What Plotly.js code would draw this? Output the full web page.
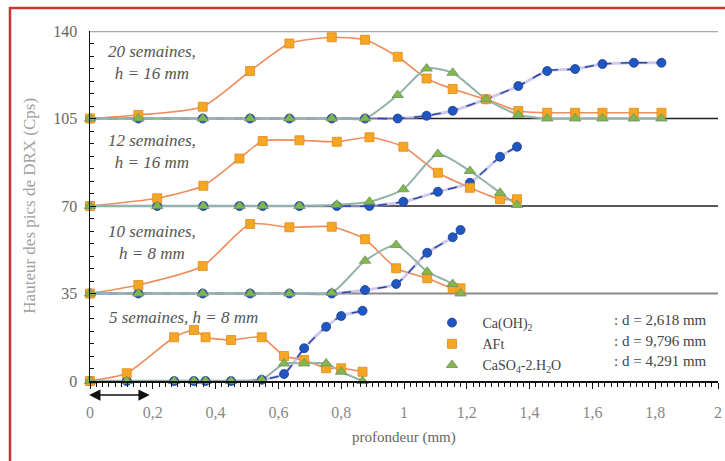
<!DOCTYPE html>
<html>
<head>
<meta charset="utf-8">
<script src="https://cdn.plot.ly/plotly-3.0.1.min.js"></script>
<style>
  html, body { margin: 0; padding: 0; background: #fff; }
  #chart { width: 725px; height: 461px; }
</style>
</head>
<body>
<div id="chart"></div>
<script>
// Profondeur (mm) des points de mesure, pour chaque échéance
const x5 = [0, 0.117, 0.268, 0.331, 0.368, 0.449, 0.547, 0.618, 0.682, 0.752, 0.80, 0.868];
const x10 = [0, 0.154, 0.359, 0.51, 0.635, 0.77, 0.876, 0.975, 1.074, 1.155, 1.18];
const x12 = [0, 0.214, 0.361, 0.476, 0.55, 0.667, 0.786, 0.89, 0.998, 1.108, 1.21, 1.306, 1.36];
const x20 = [0, 0.154, 0.359, 0.51, 0.635, 0.77, 0.876, 0.98, 1.072, 1.155, 1.261, 1.364, 1.456, 1.545, 1.632, 1.732, 1.82];

// Hauteur des pics (Cps) au-dessus de la ligne de base de chaque courbe
const portlandite5 = [0, 0, 0, 0, 0, 0, 0.5, 2.8, 13.1, 21.7, 26, 28.1];
const aft5 = [0, 3.1, 17.5, 20.4, 17.5, 16.4, 17.5, 10, 8.4, 5.1, 5.1, 3.7];
const gypse5 = [0, 0, 0, 0, 0, 0, 0.5, 7, 7, 7, 3.7, 0];

const portlandite10 = [0, 0, 0, 0, 0, 0, 1.4, 3.8, 16.3, 22.5, 25.4];
const aft10 = [0, 3.4, 11, 27.8, 26.5, 26.7, 21.7, 10.1, 6.1, 2.1, 2.1];
const gypse10 = [0, 0, 0, 0, 0, 0.3, 13.1, 19.4, 8.7, 3.8, 0];

const portlandite12 = [0, 0, 0, 0, 0, 0, 0, 0, 1.7, 5.7, 9.3, 19.7, 23.7];
const aft12 = [0, 3.1, 8.1, 19, 26, 26.3, 25.7, 27.5, 23.7, 13.3, 7.3, 2.7, 2.7];
const gypse12 = [0, 0, 0, 0, 0, 0, 0.5, 1.7, 6.7, 20.8, 14, 5.3, 0.4];

const portlandite20 = [0, 0, 0, 0, 0, 0, 0, 0, 1.1, 3.1, 7.7, 13, 19, 19.8, 21.8, 22.3, 22.3];
const aft20 = [0, 1.4, 4.7, 19, 30, 32.5, 31.5, 24.7, 16, 11.8, 7.7, 3, 2.3, 2.3, 2.3, 2.3, 2.3];
const gypse20 = [0, 0, 0, 0, 0, 0, 0, 9.4, 20, 18.3, 7.7, 1.5, 0, 0, 0, 0, 0];

// Décalage vertical de chaque courbe (ligne de base)
const baselines = [0, 35, 70, 105];
const panelLabels = ["5 semaines, h = 8 mm", "10 semaines,<br>h = 8 mm", "12 semaines,<br>h = 16 mm", "20 semaines,<br>h = 16 mm"];

const phaseNames = ["Ca(OH)<sub>2</sub>", "AFt", "CaSO<sub>4</sub>-2.H<sub>2</sub>O"];
const phaseDistances = [": d = 2,618 mm", ": d = 9,796 mm", ": d = 4,291 mm"];

const panels = [
  { x: x5, series: [portlandite5, aft5, gypse5] },
  { x: x10, series: [portlandite10, aft10, gypse10] },
  { x: x12, series: [portlandite12, aft12, gypse12] },
  { x: x20, series: [portlandite20, aft20, gypse20] }
];

const serif = "Liberation Serif, Times New Roman, serif";

const phaseStyle = [
  { line: { color: "#2546a8", width: 1.5, dash: "dash", shape: "spline", smoothing: 0.6 },
    halo: "rgba(175,165,220,0.6)",
    marker: { symbol: "circle", size: 9, color: "#1f56c2", line: { color: "#1a3f8f", width: 0.8 } } },
  { line: { color: "#f08c5a", width: 1.6, shape: "spline", smoothing: 0.6 },
    halo: null,
    marker: { symbol: "square", size: 9, color: "#f5a623", line: { color: "#e08a20", width: 0.8 } } },
  { line: { color: "#93b3a6", width: 2, shape: "spline", smoothing: 0.6 },
    halo: null,
    marker: { symbol: "triangle-up", size: 10, color: "#82b84a", line: { color: "#6f8f6a", width: 0.8 } } }
];

const traces = [];
panels.forEach((panel, p) => {
  const base = baselines[p];
  // courbes
  [1, 0, 2].forEach(s => {
    const yy = panel.series[s].map(v => v + base);
    const st = phaseStyle[s];
    if (st.halo) {
      traces.push({ x: panel.x, y: yy, mode: "lines", hoverinfo: "skip", showlegend: false,
        cliponaxis: false, line: { color: st.halo, width: 3, shape: "spline", smoothing: 0.6 } });
    }
    traces.push({ x: panel.x, y: yy, mode: "lines", showlegend: false, cliponaxis: false, line: st.line });
  });
  // points de mesure
  [0, 1, 2].forEach(s => {
    const yy = panel.series[s].map(v => v + base);
    traces.push({ x: panel.x, y: yy, mode: "markers", cliponaxis: false,
      name: "\u00a0\u00a0\u00a0" + phaseNames[s], legendgroup: "g" + s,
      legendrank: s + 1,
      showlegend: p === 0, marker: phaseStyle[s].marker });
  });
});

const shapes = [
  { type: "line", xref: "paper", x0: 0, x1: 1, yref: "y", y0: 140, y1: 140, line: { color: "#a8a8a8", width: 2.5 }, layer: "below" },
  { type: "line", xref: "paper", x0: 0, x1: 1, yref: "y", y0: 105, y1: 105, line: { color: "#222", width: 1.6 }, layer: "below" },
  { type: "line", xref: "paper", x0: 0, x1: 1, yref: "y", y0: 70, y1: 70, line: { color: "#222", width: 1.6 }, layer: "below" },
  { type: "line", xref: "paper", x0: 0, x1: 1, yref: "y", y0: 35, y1: 35, line: { color: "#8a8a8a", width: 1.8 }, layer: "below" },
  // cadre rouge
  { type: "rect", xref: "paper", yref: "paper", x0: -0.1274, x1: 1.2, y0: -0.3, y1: 1.0657,
    line: { color: "#cc3333", width: 2.5 }, fillcolor: "rgba(0,0,0,0)" }
];

const labelFont = { family: serif, size: 17, color: "#555" };
const annotations = [
  { xref: "x", yref: "y", x: 0.197, y: 127.4, text: "<i>" + panelLabels[3] + "</i>", showarrow: false, font: labelFont, align: "center" },
  { xref: "x", yref: "y", x: 0.197, y: 92, text: "<i>" + panelLabels[2] + "</i>", showarrow: false, font: labelFont, align: "center" },
  { xref: "x", yref: "y", x: 0.197, y: 55.4, text: "<i>" + panelLabels[1] + "</i>", showarrow: false, font: labelFont, align: "center" },
  { xref: "x", yref: "y", x: 0.055, y: 25.6, xanchor: "left", text: "<i>" + panelLabels[0] + "</i>", showarrow: false, font: labelFont },
  // titres des axes
  { xref: "paper", yref: "paper", x: -0.116, y: 0.5, textangle: -90, text: "Hauteur des pics de DRX (Cps)",
    showarrow: false, font: { family: serif, size: 17, color: "#a0a0a0" } },
  { xref: "paper", yref: "paper", x: 0.5, y: -0.16, yanchor: "middle", text: "profondeur (mm)", showarrow: false,
    font: { family: serif, size: 15, color: "#666" } },
  // flèche double sous l'axe
  { xref: "x", yref: "paper", x: 0.19, y: -0.04, axref: "pixel", ayref: "pixel", ax: -62, ay: 0,
    text: "", showarrow: true, arrowside: "end+start", arrowhead: 2, arrowsize: 1.5, arrowwidth: 1.5, arrowcolor: "#111" }
];
phaseDistances.forEach((t, i) => {
  annotations.push({ xref: "paper", yref: "paper", x: (612 - 90) / 628, xanchor: "left",
    y: [0.174, 0.114, 0.057][i], yanchor: "middle", text: t, showarrow: false,
    font: { family: serif, size: 15, color: "#444" } });
});

const layout = {
  width: 725, height: 461,
  margin: { l: 90, r: 7, t: 31, b: 80 },
  paper_bgcolor: "#fff", plot_bgcolor: "#fff",
  separators: ", ",
  showlegend: true,
  legend: { x: (432 - 90) / 628, y: (381 - 307) / 350, xanchor: "left", yanchor: "top",
    bgcolor: "rgba(0,0,0,0)", borderwidth: 0, traceorder: "normal",
    font: { family: serif, size: 14, color: "#444" }, tracegroupgap: 0 },
  xaxis: {
    range: [0, 2], tick0: 0, dtick: 0.2, ticks: "outside", ticklen: 6, tickcolor: "#111", tickwidth: 1,
    showline: true, linecolor: "#111", linewidth: 1.5, showgrid: false, zeroline: false,
    tickfont: { family: serif, size: 16, color: "#888" }, ticklabelstandoff: 10,
    minor: { dtick: 0.02, ticks: "outside", ticklen: 4, tickcolor: "#111", showgrid: false }
  },
  yaxis: {
    range: [0, 140], tickvals: [0, 35, 70, 105, 140], ticks: "inside", ticklen: 6, tickcolor: "#111",
    showline: true, linecolor: "#111", linewidth: 1.5, showgrid: false, zeroline: false,
    tickfont: { family: serif, size: 16, color: "#666" }, ticklabelstandoff: 8,
    minor: { dtick: 5, ticks: "inside", ticklen: 4, tickcolor: "#111", showgrid: false }
  },
  shapes: shapes,
  annotations: annotations
};

Plotly.newPlot("chart", traces, layout, { displayModeBar: false, staticPlot: true });
</script>
</body>
</html>
